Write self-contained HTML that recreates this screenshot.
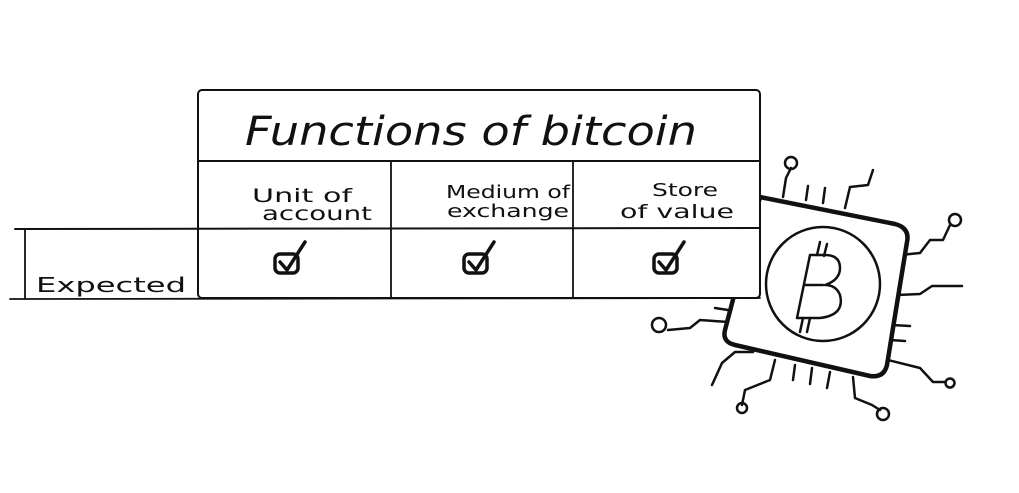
<!DOCTYPE html>
<html><head><style>
body{margin:0;background:#fff;}
svg text{font-family:"DejaVu Sans","Liberation Sans",sans-serif;fill:#111;}
</style></head><body>
<svg width="1019" height="488" viewBox="0 0 1019 488" xmlns="http://www.w3.org/2000/svg">
<g fill="none" stroke="#111" stroke-linecap="round" stroke-linejoin="round">
<g stroke-width="2.5">
<path d="M783 197 L786 178 L791 168"/><circle cx="791" cy="163" r="6"/>
<path d="M806 200 L808 186"/><path d="M823 203 L825 188"/>
<path d="M845 208 L850 187 L868 185 L873 170"/>
<path d="M900 255 L920 253 L930 240 L943 240 L950 225"/><circle cx="955" cy="220" r="6"/>
<path d="M897 295 L920 294 L932 286 L962 286"/>
<path d="M892 325 L910 326"/><path d="M890 340 L905 341"/>
<path d="M888 360 L920 368 L933 382 L945 382"/><circle cx="950" cy="383" r="4.5"/>
<path d="M853 377 L855 398 L872 405 L880 410"/><circle cx="883" cy="414" r="6"/>
<path d="M830 372 L827 388"/><path d="M812 368 L810 384"/><path d="M795 365 L793 380"/>
<path d="M775 360 L770 380 L745 390 L742 405"/><circle cx="742" cy="408" r="5"/>
<path d="M753 352 L735 352 L722 363 L712 385"/>
<path d="M728 322 L700 320 L690 328 L668 330"/><circle cx="659" cy="325" r="7"/>
<path d="M728 310 L715 308"/>
</g>
<path d="M760 197 L895 224 Q910 228 907 242 L887 365 Q884 378 870 376 L735 345 Q722 342 725 330 L760 197" stroke-width="4.5" fill="#fff"/>
<circle cx="823" cy="284" r="57" stroke-width="2.5"/>
<path d="M810 255 L797 318 L820 318 Q845 315 840 295 Q836 285 825 285 Q840 280 840 268 Q840 255 825 255 Z M823 285 L805 285" stroke-width="2.5"/>
<path d="M820 242 L817 255 M827 244 L824 256 M803 318 L800 332 M810 318 L807 332" stroke-width="2.5"/>
<rect x="198" y="90" width="562" height="208" rx="4" stroke-width="2" fill="#fff"/>
<path d="M198 161 L760 161" stroke-width="2"/>
<path d="M391 161 L391 298 M573 161 L573 298" stroke-width="1.8"/>
<path d="M15 229 L760 228" stroke-width="2"/>
<path d="M25 229 L25 299 M10 299 L760 298" stroke-width="1.8"/>
<g stroke-width="3.5">
<rect x="275" y="254" width="23" height="19" rx="5"/><path d="M280 262 L287 270 L305 242"/>
<rect x="464" y="254" width="23" height="19" rx="5"/><path d="M469 262 L476 270 L494 242"/>
<rect x="654" y="254" width="23" height="19" rx="5"/><path d="M659 262 L666 270 L684 242"/>
</g>
</g>
<text x="245" y="145" font-size="40" font-style="italic" textLength="452" lengthAdjust="spacingAndGlyphs">Functions of bitcoin</text>
<text x="252" y="202" font-size="19" textLength="100" lengthAdjust="spacingAndGlyphs">Unit of</text>
<text x="262" y="220" font-size="19" textLength="110" lengthAdjust="spacingAndGlyphs">account</text>
<text x="446" y="198" font-size="18" textLength="124" lengthAdjust="spacingAndGlyphs">Medium of</text>
<text x="447" y="217" font-size="18" textLength="122" lengthAdjust="spacingAndGlyphs">exchange</text>
<text x="652" y="196" font-size="18" textLength="66" lengthAdjust="spacingAndGlyphs">Store</text>
<text x="620" y="218" font-size="19" textLength="114" lengthAdjust="spacingAndGlyphs">of value</text>
<text x="36" y="292" font-size="20" textLength="150" lengthAdjust="spacingAndGlyphs">Expected</text>
</svg>
</body></html>
